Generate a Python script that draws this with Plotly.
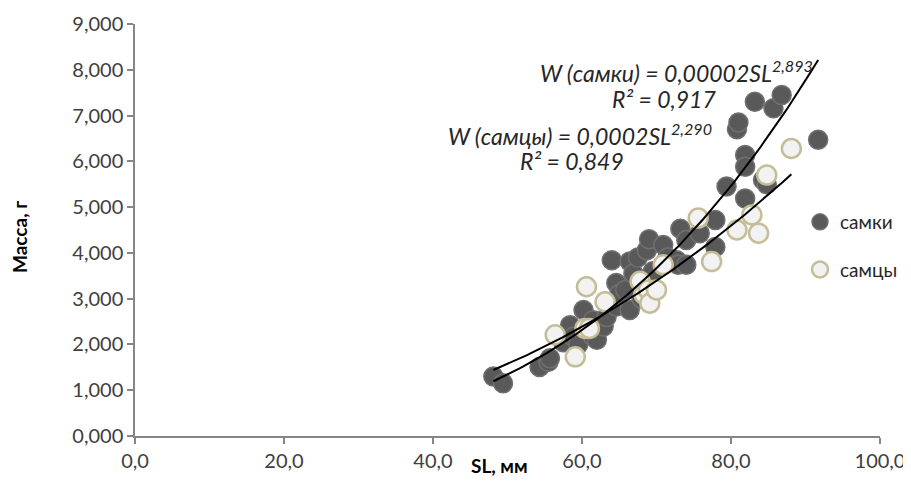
import numpy as np
import plotly.graph_objects as go

# ---- data ----
female_sl = [48.1, 49.4, 54.3, 55.5, 55.7, 57.5, 58.4, 58.8, 59.5, 60.2, 61.0, 61.5, 61.5, 62.0,
             62.9, 63.3, 64.0, 64.6, 64.6, 65.0, 65.8, 66.4, 66.4, 66.9, 67.5, 68.0, 68.7, 69.0,
             69.5, 70.9, 71.5, 72.7, 72.9, 73.2, 74.0, 74.0, 75.8, 77.9, 77.9, 79.4, 80.8, 81.0,
             81.9, 81.9, 81.9, 83.2, 84.3, 84.8, 85.7, 86.8, 91.7]
female_w = [1.30, 1.15, 1.51, 1.62, 1.70, 2.05, 2.42, 2.17, 2.00, 2.75, 2.30, 2.53, 2.17, 2.10,
            2.39, 2.60, 3.84, 3.34, 2.83, 3.10, 3.19, 2.75, 3.81, 3.55, 3.90, 3.00, 4.06, 4.30,
            3.60, 4.17, 3.90, 3.84, 3.74, 4.53, 4.28, 3.74, 4.43, 4.72, 4.13, 5.45, 6.70, 6.85,
            6.14, 5.88, 5.19, 7.30, 5.59, 5.50, 7.16, 7.45, 6.47]
male_sl = [56.4, 59.1, 60.6, 60.4, 61.0, 63.1, 67.8, 68.3, 68.9, 69.1, 70.0, 70.9, 75.6, 77.4,
           80.8, 82.8, 83.7, 84.8, 88.1]
male_w = [2.21, 1.73, 3.26, 2.35, 2.35, 2.93, 3.38, 3.10, 3.19, 2.90, 3.19, 3.74, 4.76, 3.81,
          4.50, 4.83, 4.43, 5.70, 6.28]

series_names = ["самки", "самцы"]
eq_female = "W (самки) = 0,00002SL<sup>2,893</sup>"
r2_female = "R² = 0,917"
eq_male = "W (самцы) = 0,0002SL<sup>2,290</sup>"
r2_male = "R² = 0,849"
x_title = "SL, мм"
y_title = "Масса, г"
x_ticks = [0, 20, 40, 60, 80, 100]
y_ticks = [0, 1, 2, 3, 4, 5, 6, 7, 8, 9]


def power_fit(x, y, x0, x1):
    b, ln_a = np.polyfit(np.log(x), np.log(y), 1)
    xs = np.linspace(x0, x1, 100)
    return xs, np.exp(ln_a) * xs ** b


FONT = "Lato"
fig = go.Figure()
fig.add_trace(go.Scatter(x=female_sl, y=female_w, mode="markers", name=series_names[0],
                         legendgroup="f",
                         marker=dict(size=19, color="#595959", line=dict(color="#707070", width=1.5))))
fig.add_trace(go.Scatter(x=male_sl, y=male_w, mode="markers", name=series_names[1],
                         legendgroup="m",
                         marker=dict(size=19, color="#f2f2f2", line=dict(color="#c4bd97", width=2.5))))
fx, fy = power_fit(female_sl, female_w, min(female_sl), max(female_sl))
mx, my = power_fit(male_sl, male_w, min(female_sl), max(male_sl))
fig.add_trace(go.Scatter(x=fx, y=fy, mode="lines", showlegend=False,
                         line=dict(color="black", width=2)))
fig.add_trace(go.Scatter(x=mx, y=my, mode="lines", showlegend=False,
                         line=dict(color="black", width=2)))

# page body has an 8px margin; figure coordinates are screen coordinates minus 8
OFF = 8
W, H = 911 - OFF, 481 - OFF
ml, mt = 135 - OFF, 24 - OFF
pw, ph = 745, 412
mr, mb = W - ml - pw, H - mt - ph


def px2paper(sx, sy):
    return (sx - OFF - ml) / pw, 1 - (sy - OFF - mt) / ph


ann_font = dict(family=FONT, size=23, color="#262626")
anns = [
    (815, 72, eq_female),
    (718, 99, r2_female),
    (714, 134, eq_male),
    (626, 161, r2_male),
]
for sx, sy, t in anns:
    ax_, ay_ = px2paper(sx, sy)
    fig.add_annotation(x=ax_, y=ay_, xref="paper", yref="paper",
                       text="<i>" + t + "</i>", showarrow=False, xanchor="right",
                       yanchor="middle", font=ann_font)
ax_, ay_ = px2paper(499, 465)
fig.add_annotation(x=ax_, y=ay_, xref="paper", yref="paper",
                   text="<b>" + x_title + "</b>", showarrow=False, xanchor="center",
                   yanchor="middle", font=dict(family=FONT, size=19, color="#000000"))
ax_, ay_ = px2paper(19, 237)
fig.add_annotation(x=ax_, y=ay_, xref="paper", yref="paper", textangle=-90,
                   text="<b>" + y_title + "</b>", showarrow=False, xanchor="center",
                   yanchor="middle", font=dict(family=FONT, size=19, color="#000000"))

lx, ly = px2paper(800, 203)
fig.update_layout(
    width=W, height=H,
    margin=dict(l=ml, r=mr, t=mt, b=mb, autoexpand=False),
    plot_bgcolor="white", paper_bgcolor="white",
    separators=", ",
    font=dict(family=FONT, size=20, color="#404040"),
    legend=dict(x=lx, y=ly, xanchor="left", yanchor="top",
                bgcolor="rgba(0,0,0,0)", tracegroupgap=20,
                font=dict(family=FONT, size=19, color="#262626")),
    xaxis=dict(range=[0, 100], tickvals=x_ticks, tickformat=".1f", showgrid=False,
               zeroline=False, showline=True, linecolor="#868686", linewidth=1.5,
               ticks="outside", ticklen=6, tickcolor="#868686", tickwidth=1.5,
               automargin=False),
    yaxis=dict(range=[0, 9], tickvals=y_ticks, tickformat=".3f", showgrid=False,
               zeroline=False, showline=True, linecolor="#868686", linewidth=1.5,
               ticks="outside", ticklen=6, tickcolor="#868686", tickwidth=1.5,
               automargin=False),
)
fig.write_html("out.html", config={"displayModeBar": False})
